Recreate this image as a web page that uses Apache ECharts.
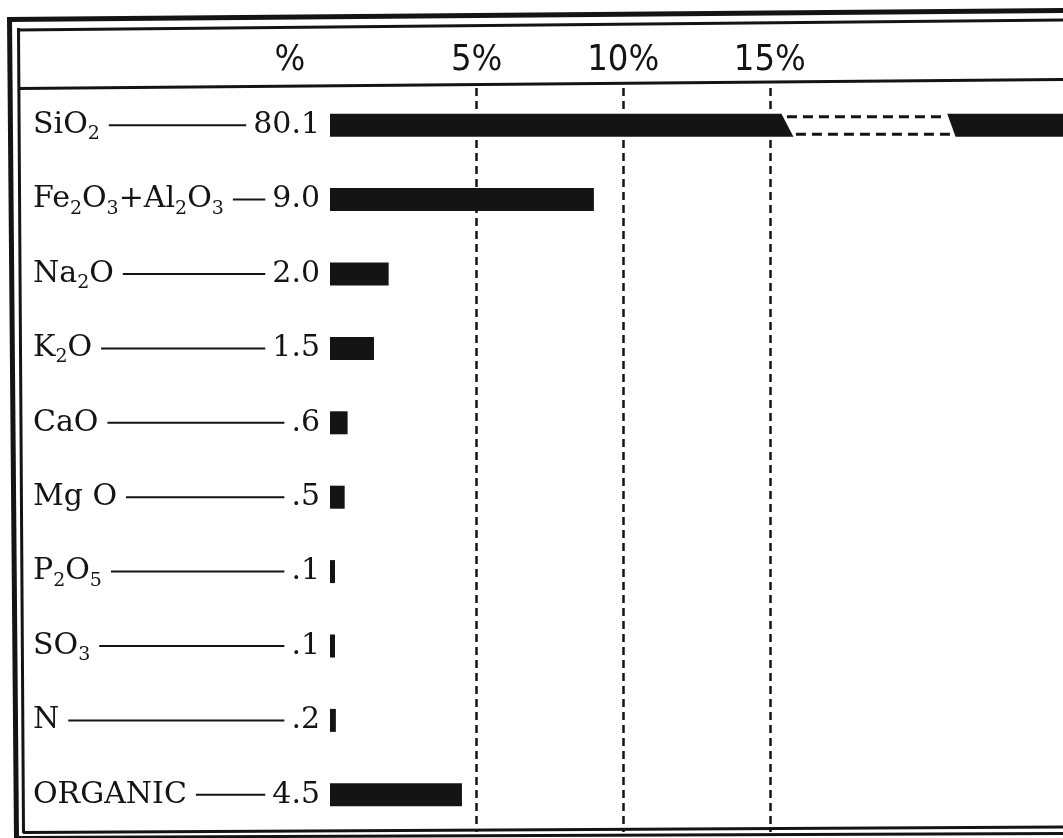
<!DOCTYPE html>
<html><head><meta charset="utf-8">
<script src="https://cdn.jsdelivr.net/npm/echarts@6/dist/echarts.min.js"></script>
<style>html,body{margin:0;padding:0;background:#fff}#c{width:1063px;height:838px}</style>
</head><body><div id="c"></div>
<script>
// ---- data ----
const categories = ['SiO₂', 'Fe₂O₃+Al₂O₃', 'Na₂O', 'K₂O', 'CaO', 'Mg O', 'P₂O₅', 'SO₃', 'N', 'ORGANIC'];
const values = [80.1, 9.0, 2.0, 1.5, 0.6, 0.5, 0.1, 0.1, 0.2, 4.5];
const gridValues = [5, 10, 15];
const tickLabels = ['5%', '10%', '15%'];
const unitLabel = '%';
const brokenBar = [15.38, 21.04]; // scale break drawn on the SiO2 bar

// ---- styling ----
const INK = '#141414';
const FONT = "'DejaVu Serif', serif";
const HFONT = "'Liberation Sans Narrow', 'DejaVu Sans Condensed', 'Liberation Sans', sans-serif";
const MAIN = 30, SUB = 19;
const TOTAL = 287, GAP_L = 9, GAP_R = 7;

const ctx = document.createElement('canvas').getContext('2d');
function tw(t, size) { ctx.font = size + 'px ' + FONT; return ctx.measureText(t).width; }
const subMap = {'₀':'0','₁':'1','₂':'2','₃':'3','₄':'4','₅':'5','₆':'6','₇':'7','₈':'8','₉':'9'};
function fmtVal(v) { const s = v.toFixed(1); return v < 1 ? s.replace(/^0/, '') : s; }

const rich = {
  n: {fontFamily: FONT, fontSize: MAIN, color: INK},
  s: {fontFamily: FONT, fontSize: SUB, color: INK, padding: [18, 0, 0, 0]},
  v: {fontFamily: FONT, fontSize: MAIN, color: INK},
  g: {fontSize: 2, lineHeight: 2, height: 2}
};
const labelText = categories.map((name, i) => {
  let parts = [], cur = '', curSub = false, width = 0;
  const flush = () => { if (cur) { parts.push('{' + (curSub ? 's' : 'n') + '|' + cur + '}'); width += tw(cur, curSub ? SUB : MAIN); } cur = ''; };
  for (const ch of name) {
    const isSub = ch in subMap;
    if (isSub !== curSub) { flush(); curSub = isSub; }
    cur += isSub ? subMap[ch] : ch;
  }
  flush();
  const vs = fmtVal(values[i]);
  const lead = Math.max(10, TOTAL - width - tw(vs, MAIN) - GAP_L - GAP_R);
  rich['L' + i] = {width: lead, height: 2, lineHeight: 2, fontSize: 2, backgroundColor: INK};
  rich['gl' + i] = {width: GAP_L, fontSize: 2, height: 2};
  rich['gr' + i] = {width: GAP_R, fontSize: 2, height: 2};
  return parts.join('') + '{gl' + i + '| }{L' + i + '| }{gr' + i + '| }{v|' + vs + '}';
});

const chart = echarts.init(document.getElementById('c'), null, {renderer: 'canvas'});
chart.setOption({
  backgroundColor: '#fff',
  animation: false,
  grid: {left: 330, right: 0, top: 88, bottom: 6, containLabel: false, outerBoundsMode: 'none'},
  xAxis: {
    type: 'value', position: 'top', min: 0, max: 25, interval: 5,
    axisLine: {show: false}, axisTick: {show: false}, splitLine: {show: false},
    axisLabel: {
      margin: 9, fontFamily: HFONT, fontSize: 36, color: INK,
      formatter: v => { const k = gridValues.indexOf(v); return k >= 0 ? tickLabels[k] : ''; }
    }
  },
  yAxis: {
    type: 'category', data: categories, inverse: true,
    axisLine: {show: false}, axisTick: {show: false}, splitLine: {show: false},
    axisLabel: {interval: 0, align: 'right', margin: 10, formatter: (val, idx) => labelText[idx], rich: rich}
  },
  series: [
    {
      type: 'bar', data: values, barWidth: 23, barMinHeight: 5, clip: true,
      itemStyle: {color: INK},
      markLine: {
        silent: true, symbol: 'none', label: {show: false},
        lineStyle: {color: INK, width: 2.5, type: [8, 5]},
        data: gridValues.map(v => ({xAxis: v}))
      }
    },
    {
      type: 'custom', coordinateSystem: 'cartesian2d', clip: false, z: 5,
      data: [[brokenBar[0], brokenBar[1], 0]],
      encode: {x: [0, 1], y: 2},
      renderItem: (params, api) => {
        const a = api.coord([api.value(0), api.value(2)]);
        const b = api.coord([api.value(1), api.value(2)]);
        const top = a[1] - 11.5, bot = a[1] + 11.5;
        return {
          type: 'group', children: [
            {type: 'polygon', shape: {points: [[a[0], top - 1], [b[0], top - 1], [b[0] + 9, bot + 1], [a[0] + 13, bot + 1]]},
             style: {fill: '#fff'}},
            {type: 'line', shape: {x1: a[0] + 6, y1: top + 3, x2: b[0] - 3, y2: top + 3},
             style: {stroke: INK, lineWidth: 3, lineDash: [10, 6]}},
            {type: 'line', shape: {x1: a[0] + 15, y1: bot - 2.5, x2: b[0] + 5, y2: bot - 2.5},
             style: {stroke: INK, lineWidth: 3, lineDash: [10, 6]}}
          ]
        };
      }
    }
  ],
  graphic: [
    {type: 'line', shape: {x1: 7, y1: 19.5, x2: 1063, y2: 10.5}, style: {stroke: INK, lineWidth: 5}},
    {type: 'line', shape: {x1: 17, y1: 30, x2: 1063, y2: 20}, style: {stroke: INK, lineWidth: 3}},
    {type: 'line', shape: {x1: 9.5, y1: 17, x2: 16.5, y2: 838}, style: {stroke: INK, lineWidth: 5}},
    {type: 'line', shape: {x1: 18.5, y1: 28, x2: 23.5, y2: 833}, style: {stroke: INK, lineWidth: 3}},
    {type: 'line', shape: {x1: 18, y1: 88.5, x2: 1063, y2: 79.5}, style: {stroke: INK, lineWidth: 3}},
    {type: 'line', shape: {x1: 23, y1: 832.5, x2: 1063, y2: 827}, style: {stroke: INK, lineWidth: 3}},
    {type: 'line', shape: {x1: 16, y1: 837.5, x2: 1063, y2: 833.5}, style: {stroke: INK, lineWidth: 3}},
    {type: 'text', x: 290, y: 79, style: {text: unitLabel, font: '36px ' + HFONT, fill: INK, align: 'center', verticalAlign: 'bottom'}}
  ]
});
</script></body></html>
